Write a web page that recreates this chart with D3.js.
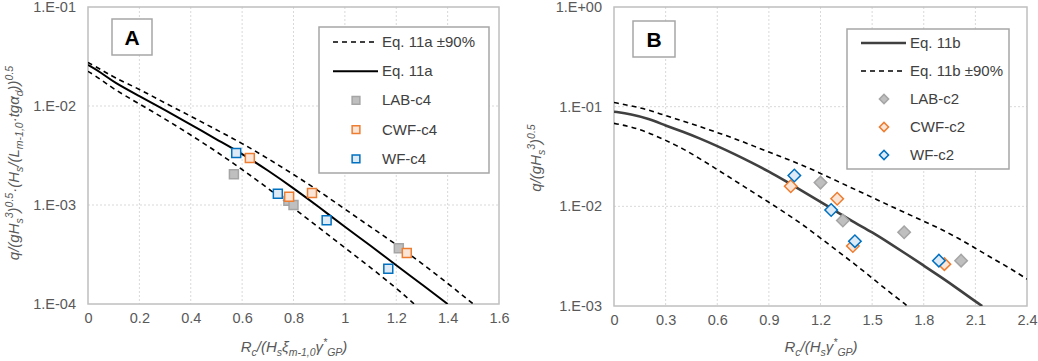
<!DOCTYPE html>
<html>
<head>
<meta charset="utf-8">
<script src="https://cdn.jsdelivr.net/npm/d3@7"></script>
<style>
  body { margin: 0; background: #fff; }
  svg { display: block; font-family: "Liberation Sans", Arial, sans-serif; }
</style>
</head>
<body>
<div class="canvas"></div>
<script>
// ---- panel A data ----
const xEq11a = [0, 0.05, 0.1, 0.2, 0.3, 0.4, 0.5, 0.6, 0.7, 0.8, 0.9, 1.0, 1.1, 1.2, 1.3, 1.4];
const eq11a = [2.60e-2, 2.19e-2, 1.74e-2, 1.26e-2, 9.1e-3, 6.5e-3, 4.6e-3, 3.3e-3, 2.24e-3, 1.48e-3, 9.5e-4, 6.0e-4, 3.9e-4, 2.45e-4, 1.58e-4, 1.0e-4];
const xEq11aUp = [0, 0.05, 0.1, 0.2, 0.3, 0.4, 0.5, 0.6, 0.7, 0.8, 0.9, 1.0, 1.1, 1.2, 1.3, 1.4, 1.5];
const eq11aUp = [2.75e-2, 2.34e-2, 1.95e-2, 1.48e-2, 1.07e-2, 7.9e-3, 5.75e-3, 4.2e-3, 2.95e-3, 2.04e-3, 1.38e-3, 9.1e-4, 6.0e-4, 4.0e-4, 2.57e-4, 1.62e-4, 1.0e-4];
const xEq11aLo = [0, 0.05, 0.1, 0.2, 0.3, 0.4, 0.5, 0.6, 0.7, 0.8, 0.9, 1.0, 1.1, 1.2, 1.27];
const eq11aLo = [2.24e-2, 1.86e-2, 1.48e-2, 1.05e-2, 7.4e-3, 5.1e-3, 3.47e-3, 2.29e-3, 1.48e-3, 9.3e-4, 5.9e-4, 3.7e-4, 2.34e-4, 1.45e-4, 1.0e-4];

const labC4 = [[0.568, 2.04e-3], [0.78, 1.1e-3], [0.80, 1.0e-3], [1.21, 3.65e-4]];
const cwfC4 = [[0.63, 2.98e-3], [0.783, 1.21e-3], [0.872, 1.32e-3], [1.241, 3.27e-4]];
const wfC4 = [[0.577, 3.35e-3], [0.739, 1.30e-3], [0.929, 7.0e-4], [1.169, 2.27e-4]];

// ---- panel B data ----
const xEq11b = [0, 0.1, 0.2, 0.3, 0.4, 0.5, 0.6, 0.7, 0.8, 0.9, 1.0, 1.1, 1.2, 1.3, 1.4, 1.5, 1.6, 1.7, 1.8, 1.9, 2.0, 2.1, 2.14];
const eq11b = [8.91e-2, 8.41e-2, 7.59e-2, 6.46e-2, 5.62e-2, 4.79e-2, 4.03e-2, 3.35e-2, 2.75e-2, 2.24e-2, 1.78e-2, 1.41e-2, 1.11e-2, 8.71e-3, 6.84e-3, 5.50e-3, 4.27e-3, 3.31e-3, 2.54e-3, 1.95e-3, 1.48e-3, 1.11e-3, 1.0e-3];
const xEq11bUp = [0, 0.1, 0.2, 0.3, 0.4, 0.5, 0.6, 0.7, 0.8, 0.9, 1.0, 1.1, 1.2, 1.3, 1.4, 1.5, 1.6, 1.7, 1.8, 1.9, 2.0, 2.1, 2.2, 2.3, 2.4];
const eq11bUp = [1.10e-1, 1.02e-1, 9.3e-2, 8.1e-2, 7.2e-2, 6.3e-2, 5.5e-2, 4.8e-2, 4.1e-2, 3.5e-2, 3.0e-2, 2.57e-2, 2.14e-2, 1.78e-2, 1.48e-2, 1.23e-2, 1.02e-2, 8.5e-3, 7.1e-3, 5.9e-3, 4.8e-3, 3.8e-3, 3.0e-3, 2.4e-3, 1.86e-3];
const xEq11bLo = [0, 0.1, 0.2, 0.3, 0.4, 0.5, 0.6, 0.7, 0.8, 0.9, 1.0, 1.1, 1.2, 1.3, 1.4, 1.5, 1.6, 1.7, 1.72];
const eq11bLo = [6.8e-2, 6.3e-2, 5.5e-2, 4.6e-2, 3.8e-2, 3.0e-2, 2.34e-2, 1.82e-2, 1.41e-2, 1.10e-2, 8.5e-3, 6.5e-3, 4.8e-3, 3.55e-3, 2.63e-3, 1.91e-3, 1.38e-3, 1.02e-3, 9.5e-4];

const labC2 = [[1.20, 1.73e-2], [1.33, 7.2e-3], [1.686, 5.5e-3], [2.017, 2.85e-3]];
const cwfC2 = [[1.027, 1.59e-2], [1.297, 1.19e-2], [1.388, 4.0e-3], [1.92, 2.63e-3]];
const wfC2 = [[1.048, 2.04e-2], [1.262, 9.2e-3], [1.40, 4.47e-3], [1.888, 2.85e-3]];

// ticks
const xTicksA = [0, 0.2, 0.4, 0.6, 0.8, 1, 1.2, 1.4, 1.6];
const yTicksA = [1e-4, 1e-3, 1e-2, 1e-1];
const xTicksB = [0, 0.3, 0.6, 0.9, 1.2, 1.5, 1.8, 2.1, 2.4];
const yTicksB = [1e-3, 1e-2, 1e-1, 1];

// marker styles
const gray = { fill: '#bfbfbf', stroke: '#a5a5a5' };
const orange = { fill: '#fbe5d6', stroke: '#ed7d31' };
const blue = { fill: '#deebf7', stroke: '#0070c0' };

const svg = d3.select('.canvas')
    .append('svg')
    .attr('width', 1038)
    .attr('height', 361);

// rich text with sub / superscripts
// parts: [text, mode] where mode is '', 'sub' or 'sup'
const rich = (textSel, parts, size) => {
    let shift = 0;
    parts.forEach(([t, mode]) => {
        let target = 0;
        if (mode === 'sub') target = size * 0.28;
        if (mode === 'sup') target = -size * 0.38;
        textSel.append('tspan')
            .attr('dy', target - shift)
            .attr('font-size', mode ? size * 0.7 : size)
            .text(t);
        shift = target;
    });
};

const expFmt = d => {
    const e = Math.round(Math.log10(d));
    const sign = e < 0 ? '-' : '+';
    return '1.E' + sign + String(Math.abs(e)).padStart(2, '0');
};

const drawPanel = (cfg) => {
    const g = svg.append('g');
    const x = d3.scaleLinear().domain(cfg.xDomain).range([cfg.left, cfg.right]);
    const y = d3.scaleLog().domain(cfg.yDomain).range([cfg.bottom, cfg.top]);
    const rot = cfg.diamond ? ' rotate(45)' : '';

    const clipId = 'clip' + cfg.id;
    svg.append('clipPath').attr('id', clipId)
        .append('rect')
            .attr('x', cfg.left).attr('y', cfg.top)
            .attr('width', cfg.right - cfg.left)
            .attr('height', cfg.bottom - cfg.top);

    // grid
    g.selectAll('.vgrid')
        .data(cfg.xTicks.slice(1, -1))
        .enter().append('line')
            .attr('x1', d => x(d)).attr('x2', d => x(d))
            .attr('y1', cfg.top).attr('y2', cfg.bottom)
            .attr('stroke', '#d9d9d9')
            .attr('stroke-width', 1)
            .attr('stroke-dasharray', '2,2');
    g.selectAll('.hgrid')
        .data(cfg.yTicks.slice(1, -1))
        .enter().append('line')
            .attr('y1', d => y(d)).attr('y2', d => y(d))
            .attr('x1', cfg.left).attr('x2', cfg.right)
            .attr('stroke', '#d9d9d9')
            .attr('stroke-width', 1)
            .attr('stroke-dasharray', '2,2');

    // plot border
    g.append('rect')
        .attr('x', cfg.left).attr('y', cfg.top)
        .attr('width', cfg.right - cfg.left)
        .attr('height', cfg.bottom - cfg.top)
        .attr('fill', 'none')
        .attr('stroke', '#bfbfbf')
        .attr('stroke-width', 1.5);

    // tick labels via axes
    const xAxis = d3.axisBottom(x).tickValues(cfg.xTicks).tickSize(0).tickPadding(9)
        .tickFormat(d => String(+d.toFixed(1)));
    g.append('g')
        .attr('transform', `translate(0, ${cfg.bottom})`)
        .call(xAxis)
        .call(a => a.select('.domain').remove())
        .selectAll('text')
            .attr('font-size', 14.5)
            .attr('font-family', '"Liberation Sans", Arial, sans-serif')
            .attr('fill', '#595959');

    const yAxis = d3.axisLeft(y).tickValues(cfg.yTicks).tickSize(0).tickPadding(12)
        .tickFormat(expFmt);
    g.append('g')
        .attr('transform', `translate(${cfg.left}, 0)`)
        .call(yAxis)
        .call(a => a.select('.domain').remove())
        .selectAll('text')
            .attr('font-size', 14.5)
            .attr('font-family', '"Liberation Sans", Arial, sans-serif')
            .attr('fill', '#595959');

    // lines
    const line = d3.line()
        .x(d => x(d[0]))
        .y(d => y(d[1]))
        .curve(d3.curveBasis);
    const plot = g.append('g').attr('clip-path', `url(#${clipId})`);
    cfg.lines.forEach(l => {
        plot.append('path')
            .datum(d3.zip(l.x, l.y))
            .attr('d', line)
            .attr('fill', 'none')
            .attr('stroke', l.color)
            .attr('stroke-width', l.width)
            .attr('stroke-dasharray', l.dash || null);
    });

    // markers
    const symbol = d3.symbol().type(d3.symbolSquare).size(cfg.markerSize);
    cfg.points.forEach(p => {
        plot.selectAll(null)
            .data(p.data)
            .enter().append('path')
                .attr('d', symbol)
                .attr('transform', d => `translate(${x(d[0])}, ${y(d[1])})${rot}`)
                .attr('fill', p.style.fill)
                .attr('stroke', p.style.stroke)
                .attr('stroke-width', 1.5);
    });

    // panel letter box
    g.append('rect')
        .attr('x', cfg.tag.x).attr('y', cfg.tag.y)
        .attr('width', cfg.tag.w).attr('height', cfg.tag.h)
        .attr('fill', '#fff')
        .attr('stroke', '#a6a6a6')
        .attr('stroke-width', 1.5);
    g.append('text')
        .attr('x', cfg.tag.x + cfg.tag.w / 2)
        .attr('y', cfg.tag.y + cfg.tag.h / 2 + 7.5)
        .attr('text-anchor', 'middle')
        .attr('font-size', 21)
        .attr('font-weight', 'bold')
        .attr('fill', '#000')
        .text(cfg.tag.text);

    // legend
    const lg = cfg.legend;
    g.append('rect')
        .attr('x', lg.x).attr('y', lg.y)
        .attr('width', lg.w).attr('height', lg.h)
        .attr('fill', '#fff')
        .attr('stroke', '#a6a6a6')
        .attr('stroke-width', 1.5);
    const legSymbol = d3.symbol().type(d3.symbolSquare).size(cfg.legendMarkerSize);
    lg.items.forEach((it, i) => {
        const cy = lg.y + lg.first + i * lg.step;
        if (it.line) {
            g.append('line')
                .attr('x1', lg.x + 14).attr('x2', lg.x + 59)
                .attr('y1', cy).attr('y2', cy)
                .attr('stroke', it.line.color)
                .attr('stroke-width', it.line.width)
                .attr('stroke-dasharray', it.line.dash || null);
        } else {
            g.append('path')
                .attr('d', legSymbol)
                .attr('transform', `translate(${lg.x + 37}, ${cy})${rot}`)
                .attr('fill', it.style.fill)
                .attr('stroke', it.style.stroke)
                .attr('stroke-width', 1.5);
        }
        g.append('text')
            .attr('x', lg.x + 63)
            .attr('y', cy + 5)
            .attr('font-size', 15)
            .attr('fill', '#404040')
            .text(it.label);
    });

    // axis titles
    const xt = g.append('text')
        .attr('x', cfg.xTitle.x).attr('y', cfg.xTitle.y)
        .attr('text-anchor', 'middle')
        .attr('font-style', 'italic')
        .attr('fill', '#595959');
    rich(xt, cfg.xTitle.parts, 15);

    const yt = g.append('text')
        .attr('transform', `translate(${cfg.yTitle.x}, ${cfg.yTitle.y}) rotate(-90)`)
        .attr('text-anchor', 'middle')
        .attr('font-style', 'italic')
        .attr('fill', '#595959');
    rich(yt, cfg.yTitle.parts, 15);
};

const dashLine = { color: '#000', width: 1.6, dash: '5,4' };

drawPanel({
    id: 'A',
    left: 88, right: 499, top: 7, bottom: 304,
    xDomain: [0, 1.6], yDomain: [1e-4, 1e-1],
    xTicks: xTicksA, yTicks: yTicksA,
    lines: [
        { x: xEq11aUp, y: eq11aUp, ...dashLine },
        { x: xEq11aLo, y: eq11aLo, ...dashLine },
        { x: xEq11a, y: eq11a, color: '#000', width: 2 }
    ],
    diamond: false, markerSize: 80, legendMarkerSize: 60,
    points: [
        { data: labC4, style: gray },
        { data: cwfC4, style: orange },
        { data: wfC4, style: blue }
    ],
    tag: { x: 112, y: 19, w: 40, h: 36, text: 'A' },
    legend: {
        x: 319, y: 27, w: 170, h: 146, first: 15, step: 29.2,
        items: [
            { label: 'Eq. 11a \u00b190%', line: dashLine },
            { label: 'Eq. 11a', line: { color: '#000', width: 2 } },
            { label: 'LAB-c4', style: gray },
            { label: 'CWF-c4', style: orange },
            { label: 'WF-c4', style: blue }
        ]
    },
    xTitle: { x: 294, y: 352, parts: [['R', ''], ['c', 'sub'], ['/(H', ''], ['s', 'sub'], ['\u03be', ''], ['m-1,0', 'sub'], ['\u03b3', ''], ['*', 'sup'], ['GP', 'sub'], [')', '']] },
    yTitle: { x: 19, y: 163, parts: [['q/(gH', ''], ['s', 'sub'], ['3', 'sup'], [')', ''], ['0.5', 'sup'], ['\u00b7(H', ''], ['s', 'sub'], ['/(L', ''], ['m-1,0', 'sub'], ['\u00b7tg\u03b1', ''], ['d', 'sub'], ['))', ''], ['0.5', 'sup']] }
});

drawPanel({
    id: 'B',
    left: 614, right: 1027, top: 7, bottom: 306,
    xDomain: [0, 2.4], yDomain: [1e-3, 1],
    xTicks: xTicksB, yTicks: yTicksB,
    lines: [
        { x: xEq11bUp, y: eq11bUp, ...dashLine },
        { x: xEq11bLo, y: eq11bLo, ...dashLine },
        { x: xEq11b, y: eq11b, color: '#404040', width: 2.6 }
    ],
    diamond: true, markerSize: 78, legendMarkerSize: 42,
    points: [
        { data: labC2, style: gray },
        { data: cwfC2, style: orange },
        { data: wfC2, style: blue }
    ],
    tag: { x: 633, y: 21, w: 42, h: 36, text: 'B' },
    legend: {
        x: 847, y: 29, w: 162, h: 140, first: 14, step: 28,
        items: [
            { label: 'Eq. 11b', line: { color: '#404040', width: 2.6 } },
            { label: 'Eq. 11b \u00b190%', line: dashLine },
            { label: 'LAB-c2', style: gray },
            { label: 'CWF-c2', style: orange },
            { label: 'WF-c2', style: blue }
        ]
    },
    xTitle: { x: 821, y: 352, parts: [['R', ''], ['c', 'sub'], ['/(H', ''], ['s', 'sub'], ['\u03b3', ''], ['*', 'sup'], ['GP', 'sub'], [')', '']] },
    yTitle: { x: 541, y: 158, parts: [['q/(gH', ''], ['s', 'sub'], ['3', 'sup'], [')', ''], ['0.5', 'sup']] }
});
</script>
</body>
</html>
